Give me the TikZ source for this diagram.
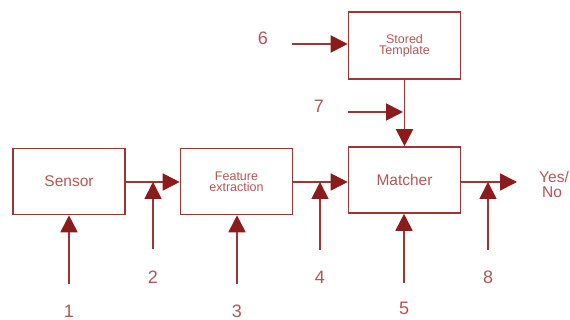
\documentclass[tikz,border=0pt]{standalone}
\usepackage{fontspec}
\setmainfont{Liberation Sans}
\usetikzlibrary{arrows.meta}
\definecolor{ln}{RGB}{158,52,52}
\definecolor{hd}{RGB}{140,28,28}
\definecolor{tx}{RGB}{178,86,86}
\tikzset{
  blk/.style={draw=ln, line width=1.6pt, minimum width=112pt, minimum height=66pt, inner sep=0pt, text=tx, align=center},
  conn/.style={draw=ln, line width=1.8pt, -{Triangle[length=17pt,width=17pt,color=hd]}, shorten >=0pt},
  num/.style={text=tx, font=\fontsize{18}{18}\selectfont, inner sep=0pt},
  big/.style={font=\fontsize{15.5}{16}\selectfont},
  small/.style={font=\fontsize{12.5}{13}\selectfont}
}
\begin{document}
\begin{tikzpicture}[x=1pt,y=-1pt]
\useasboundingbox (0,0) rectangle (570,320);
% boxes
\node[blk, big] (sensor) at (69,181.5) {Sensor};
\node[blk, small] (feat) at (236.5,181.5) {Feature\\[-2pt]extraction};
\node[blk, big] (match) at (404.5,180) {Matcher};
\node[blk, small, minimum height=67pt] (tmpl) at (404.5,45.5) {Stored\\[-2pt]Template};
% output text
\node[text=tx, big, anchor=west, align=left, inner sep=0pt] (out) at (539,184) {Yes/\\[-1pt]\hspace*{3pt}No};
% free ends
\coordinate (j2) at (153,182);
\coordinate (j4) at (320,182);
\coordinate (j8) at (488,182);
\coordinate (j7) at (403,112);
\coordinate (oe) at (517,182);
% main flow
\draw[conn] (sensor.east |- j2) -- (feat.west |- j2);
\draw[conn] (feat.east |- j4) -- (match.west |- j4);
\draw[conn] (match.east |- j8) -- (oe);
\draw[conn] (tmpl.south) -- (match.north);
% numbers
\node[num] (n1) at (69,311) {1};
\node[num] (n2) at (153,277) {2};
\node[num] (n3) at (237,311) {3};
\node[num] (n4) at (320,277) {4};
\node[num] (n5) at (404,308) {5};
\node[num] (n6) at (263,38) {6};
\node[num] (n7) at (319,106) {7};
\node[num] (n8) at (488,277) {8};
% input arrows
\coordinate (s1) at (69,284);
\coordinate (s2) at (153,249);
\coordinate (s3) at (237,284);
\coordinate (s4) at (320,250);
\coordinate (s5) at (404,283);
\coordinate (s6) at (292,44);
\coordinate (s7) at (348,112);
\coordinate (s8) at (488,250);
\draw[conn] (s1) -- (sensor.south -| s1);
\draw[conn] (s2) -- (j2);
\draw[conn] (s3) -- (feat.south -| s3);
\draw[conn] (s4) -- (j4);
\draw[conn] (s5) -- (match.south -| s5);
\draw[conn] (s6) -- (tmpl.west |- s6);
\draw[conn] (s7) -- (j7);
\draw[conn] (s8) -- (j8);
\end{tikzpicture}
\end{document}
